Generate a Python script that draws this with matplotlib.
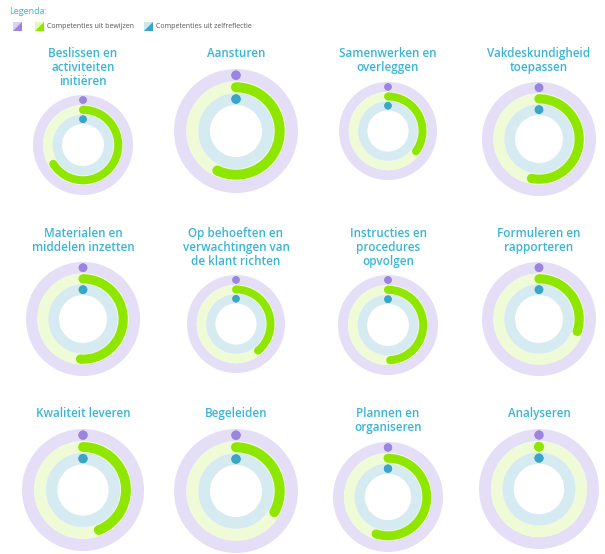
import math
import matplotlib
matplotlib.use("Agg")
import matplotlib.pyplot as plt
from matplotlib.patches import Wedge, Circle, Polygon, Rectangle

# ---------------- data ----------------
titles = [
    "Beslissen en\nactiviteiten\ninitiëren",
    "Aansturen",
    "Samenwerken en\noverleggen",
    "Vakdeskundigheid\ntoepassen",
    "Materialen en\nmiddelen inzetten",
    "Op behoeften en\nverwachtingen van\nde klant richten",
    "Instructies en\nprocedures\nopvolgen",
    "Formuleren en\nrapporteren",
    "Kwaliteit leveren",
    "Begeleiden",
    "Plannen en\norganiseren",
    "Analyseren",
]
# fraction of the full circle
totaal = [0, 0, 0, 0, 0, 0, 0, 0, 0, 0, 0, 0]
bewijzen = [0.66, 0.57, 0.35, 0.53, 0.51, 0.39, 0.49, 0.30, 0.44, 0.33, 0.55, 0.0]
zelfreflectie = [0, 0, 0, 0, 0, 0, 0, 0, 0, 0, 0, 0]
legend_labels = ["", "Competenties uit bewijzen", "Competenties uit zelfreflectie"]

# ---------------- layout / style ----------------
W, H = 605, 554
col_x = [83, 236, 388, 539]
row_title_top = [41, 221, 401]
outer_radius = [50, 62, 49, 57, 57, 49, 50, 57, 61, 62, 55, 60]
line_h = 13
gap = 15

title_color = "#3bb4d4"
band_colors = ["#e4def6", "#effbd6", "#d6ebf1"]
arc_colors = ["#9b85e0", "#8fe600", "#3aa5c6"]
band_edges = [(0.80, 1.00), (0.61, 0.80), (0.42, 0.61)]
arc_widths = [0.15, 0.16, 0.15]

fig = plt.figure(figsize=(6.05, 5.54), dpi=100)
ax = fig.add_axes([0, 0, 1, 1])
ax.set_xlim(0, W)
ax.set_ylim(H, 0)
ax.set_aspect("equal")
ax.axis("off")


def draw_arc(cx, cy, r_mid, width, frac, color):
    # clockwise from top (y axis is inverted)
    t1 = -90.0
    t2 = -90.0 + 360.0 * frac
    if frac > 0:
        ax.add_patch(Wedge((cx, cy), r_mid + width / 2, t1, t2, width=width,
                           facecolor=color, edgecolor="none"))
    for t in (t1, t2):
        x = cx + r_mid * math.cos(math.radians(t))
        y = cy + r_mid * math.sin(math.radians(t))
        ax.add_patch(Circle((x, y), width / 2, facecolor=color, edgecolor="none"))


for i, title in enumerate(titles):
    r, c = divmod(i, 4)
    cx = col_x[c]
    ttop = row_title_top[r]
    nlines = title.count("\n") + 1
    ax.text(cx, ttop + 6, title, ha="center", va="top", color=title_color,
            fontsize=8.4, family="Open Sans", fontweight="semibold", linespacing=1.12)
    R = outer_radius[i]
    cy = ttop + nlines * line_h + gap + R
    values = [totaal[i], bewijzen[i], zelfreflectie[i]]
    for k in range(3):
        lo, hi = band_edges[k]
        ax.add_patch(Wedge((cx, cy), hi * R, 0, 360, width=(hi - lo) * R,
                           facecolor=band_colors[k], edgecolor="none"))
    for k in range(3):
        lo, hi = band_edges[k]
        draw_arc(cx, cy, (lo + hi) / 2 * R, arc_widths[k] * R, values[k], arc_colors[k])

# ---------------- legend ----------------
ax.text(9, 11, "Legenda:", ha="left", va="center", color=title_color,
        fontsize=6.5, family="Open Sans")
icon_x = [13, 35, 144]
icon_light = ["#d9d2f5", "#e4fbb8", "#cde8f0"]
for k in range(3):
    x0, y0, s = icon_x[k], 22, 9
    ax.add_patch(Rectangle((x0, y0), s, s, facecolor=icon_light[k], edgecolor="none"))
    ax.add_patch(Polygon([(x0, y0 + s), (x0 + s, y0 + s), (x0 + s, y0)],
                         facecolor=arc_colors[k], edgecolor="none"))
    if legend_labels[k]:
        ax.text(x0 + s + 3, y0 + s / 2, legend_labels[k], ha="left", va="center",
                color="#555555", fontsize=5.0, family="Open Sans")

fig.savefig("out.png", dpi=100, facecolor="white")
